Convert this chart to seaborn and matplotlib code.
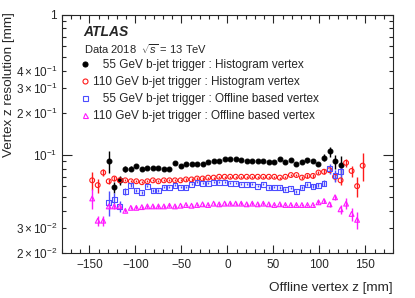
import numpy as np
import seaborn as sns
import matplotlib
matplotlib.use("Agg")
import matplotlib.pyplot as plt
from matplotlib.ticker import FixedLocator, FuncFormatter, MultipleLocator
from matplotlib.lines import Line2D

# bin centres (6 mm bins)
z_black = list(range(-129, 124, 6))
z_red = list(range(-147, 148, 6))
z_blue = list(range(-129, 124, 6))
z_magenta = list(range(-147, 142, 6))

# 55 GeV b-jet trigger : Histogram vertex
res_black = [0.091, 0.059, 0.066, 0.080, 0.080, 0.083, 0.080, 0.081, 0.081, 0.081,
             0.080, 0.080, 0.088, 0.083, 0.086, 0.087, 0.087, 0.087, 0.089, 0.090,
             0.091, 0.093, 0.094, 0.093, 0.092, 0.091, 0.091, 0.091, 0.091, 0.0895,
             0.0895, 0.094, 0.0886, 0.092, 0.086, 0.089, 0.092, 0.091, 0.086, 0.096,
             0.106, 0.090, 0.085]
err_black = [0.016, 0.005, 0.0045, 0.004, 0.003, 0.002, 0.0015, 0.0015, 0.0015, 0.0015,
             0.0015, 0.0015, 0.0015, 0.0015, 0.0015, 0.0015, 0.0015, 0.0015, 0.0015, 0.0015,
             0.0015, 0.0015, 0.0015, 0.0015, 0.0015, 0.0015, 0.0015, 0.0015, 0.0015, 0.0015,
             0.0015, 0.0015, 0.0015, 0.002, 0.002, 0.003, 0.004, 0.003, 0.003, 0.006,
             0.009, 0.010, 0.013]

# 110 GeV b-jet trigger : Histogram vertex
res_red = [0.066, 0.061, 0.075, 0.065, 0.068, 0.066, 0.066, 0.065, 0.065, 0.064,
           0.065, 0.066, 0.065, 0.066, 0.066, 0.066, 0.066, 0.067, 0.067, 0.068,
           0.068, 0.069, 0.069, 0.070, 0.070, 0.070, 0.070, 0.070, 0.070, 0.070,
           0.070, 0.070, 0.070, 0.070, 0.069, 0.070, 0.072, 0.072, 0.069, 0.071,
           0.071, 0.075, 0.076, 0.078, 0.070, 0.066, 0.088, 0.077, 0.060, 0.084]
err_red = [0.010, 0.007, 0.004, 0.003, 0.003, 0.002, 0.0012, 0.0012, 0.0012, 0.0012,
           0.0012, 0.0012, 0.0012, 0.0012, 0.0012, 0.0012, 0.0012, 0.0012, 0.0012, 0.0012,
           0.0012, 0.0012, 0.0012, 0.0012, 0.0012, 0.0012, 0.0012, 0.0012, 0.0012, 0.0012,
           0.0012, 0.0012, 0.0012, 0.0012, 0.0012, 0.0012, 0.0015, 0.0015, 0.0015, 0.002,
           0.002, 0.002, 0.003, 0.004, 0.005, 0.005, 0.006, 0.007, 0.010, 0.019]

# 55 GeV b-jet trigger : Offline based vertex
res_blue = [0.046, 0.048, 0.043, 0.055, 0.061, 0.056, 0.054, 0.060, 0.056, 0.056,
            0.059, 0.059, 0.061, 0.059, 0.059, 0.062, 0.064, 0.063, 0.063, 0.064,
            0.064, 0.064, 0.063, 0.063, 0.062, 0.062, 0.062, 0.060, 0.062, 0.0585,
            0.059, 0.0585, 0.057, 0.058, 0.055, 0.0585, 0.062, 0.060, 0.061, 0.063,
            0.080, 0.071, 0.076]
err_blue = [0.009, 0.006, 0.004, 0.003, 0.002, 0.0015, 0.0012, 0.0012, 0.0012, 0.0012,
            0.0012, 0.0012, 0.0012, 0.0012, 0.0012, 0.0012, 0.0012, 0.0012, 0.0012, 0.0012,
            0.0012, 0.0012, 0.0012, 0.0012, 0.0012, 0.0012, 0.0012, 0.0012, 0.0012, 0.0012,
            0.0012, 0.0012, 0.0012, 0.0012, 0.0012, 0.0015, 0.0015, 0.002, 0.002, 0.003,
            0.007, 0.007, 0.009]

# 110 GeV b-jet trigger : Offline based vertex
res_magenta = [0.049, 0.034, 0.034, 0.043, 0.043, 0.043, 0.040, 0.042, 0.042, 0.0425,
               0.043, 0.043, 0.043, 0.043, 0.0435, 0.043, 0.0435, 0.044, 0.0435, 0.044,
               0.0445, 0.044, 0.045, 0.0445, 0.045, 0.045, 0.045, 0.045, 0.0445, 0.045,
               0.0445, 0.045, 0.0445, 0.044, 0.0445, 0.044, 0.044, 0.044, 0.044, 0.044,
               0.044, 0.046, 0.047, 0.0445, 0.050, 0.041, 0.045, 0.038, 0.0345]
err_magenta = [0.008, 0.003, 0.003, 0.002, 0.0015, 0.0012, 0.001, 0.001, 0.001, 0.001,
               0.001, 0.001, 0.001, 0.001, 0.001, 0.001, 0.001, 0.001, 0.001, 0.001,
               0.001, 0.001, 0.001, 0.001, 0.001, 0.001, 0.001, 0.001, 0.001, 0.001,
               0.001, 0.001, 0.001, 0.001, 0.001, 0.001, 0.001, 0.001, 0.001, 0.001,
               0.001, 0.0015, 0.0015, 0.002, 0.002, 0.003, 0.004, 0.004, 0.005]

labels = ["   55 GeV b-jet trigger : Histogram vertex",
          "110 GeV b-jet trigger : Histogram vertex",
          "   55 GeV b-jet trigger : Offline based vertex",
          "110 GeV b-jet trigger : Offline based vertex"]

sns.set_style("ticks")
plt.rcParams['font.family'] = ['Liberation Sans', 'DejaVu Sans']
plt.rcParams['mathtext.fontset'] = 'custom'
plt.rcParams['mathtext.rm'] = 'Liberation Sans'
plt.rcParams['mathtext.it'] = 'Liberation Sans:italic'

fig = plt.figure(figsize=(4.15, 2.98), dpi=100)
ax = fig.add_axes([0.149, 0.151, 0.798, 0.799])

series = [
    (z_black, res_black, err_black, "black", "o", True),
    (z_red, res_red, err_red, "#ff1a1a", "o", False),
    (z_blue, res_blue, err_blue, "#4d4dff", "s", False),
    (z_magenta, res_magenta, err_magenta, "#ff1aff", "^", False),
]

handles = []
for (z, r, e, col, mk, filled), lab in zip(series, labels):
    ax.errorbar(z, r, yerr=e, fmt="none", ecolor=col, elinewidth=1.0, capsize=0, zorder=2)
    sns.scatterplot(x=z, y=r, marker=mk, s=12, color=col,
                    facecolor=col if filled else "none", edgecolor=col,
                    linewidth=0.8, ax=ax, zorder=3, legend=False)
    handles.append(Line2D([], [], linestyle="none", marker=mk, markersize=3.6,
                          markerfacecolor=col if filled else "none",
                          markeredgecolor=col, markeredgewidth=0.8))

ax.set_yscale("log")
ax.set_xlim(-180, 180)
ax.set_ylim(0.02, 1)

# x ticks
ax.xaxis.set_major_locator(MultipleLocator(50))
ax.xaxis.set_minor_locator(MultipleLocator(10))
ax.xaxis.set_major_formatter(FuncFormatter(lambda v, p: f"{int(v)}".replace("-", "\u2212")))

# y ticks: long at decades, short elsewhere, labels like ROOT
ax.yaxis.set_major_locator(FixedLocator([0.1, 1]))
minor = [k * 0.01 for k in range(2, 10)] + [k * 0.1 for k in range(2, 10)]
ax.yaxis.set_minor_locator(FixedLocator(minor))
ax.yaxis.set_major_formatter(FuncFormatter(lambda v, p: "1" if v > 0.5 else r"$10^{-1}$"))
lab_minor = {0.02: r"$2\times10^{-2}$", 0.03: r"$3\times10^{-2}$",
             0.2: r"$2\times10^{-1}$", 0.3: r"$3\times10^{-1}$", 0.4: r"$4\times10^{-1}$"}


def minor_fmt(v, p):
    for k, s in lab_minor.items():
        if abs(v - k) < 1e-6:
            return s
    return ""


ax.yaxis.set_minor_formatter(FuncFormatter(minor_fmt))

ax.tick_params(which="both", direction="in", top=True, right=True, labelsize=8.5, width=0.8)
ax.tick_params(which="major", length=6)
ax.tick_params(which="minor", length=3)
ax.tick_params(axis="y", which="major", length=7)
ax.tick_params(axis="x", pad=4)
for sp in ax.spines.values():
    sp.set_linewidth(0.8)

ax.set_xlabel("Offline vertex z [mm]", fontsize=9.7, loc="right", labelpad=8)
ax.set_ylabel("Vertex z resolution [mm]", fontsize=9.7, loc="top")
ax.yaxis.set_label_coords(-0.14, 1.01)

ax.text(0.066, 0.93, "ATLAS", transform=ax.transAxes, fontsize=10,
        fontweight="bold", fontstyle="italic", va="center")
ax.text(0.066, 0.857, r"Data 2018  $\sqrt{s}$ = 13 TeV", transform=ax.transAxes,
        fontsize=8, va="center")

ax.legend(handles, labels, loc="upper left", bbox_to_anchor=(0.052, 0.814),
          frameon=False, fontsize=8.5, handlelength=1.0, handletextpad=0.17,
          labelspacing=0.42, borderpad=0, borderaxespad=0)

fig.savefig("out.png", dpi=100)
